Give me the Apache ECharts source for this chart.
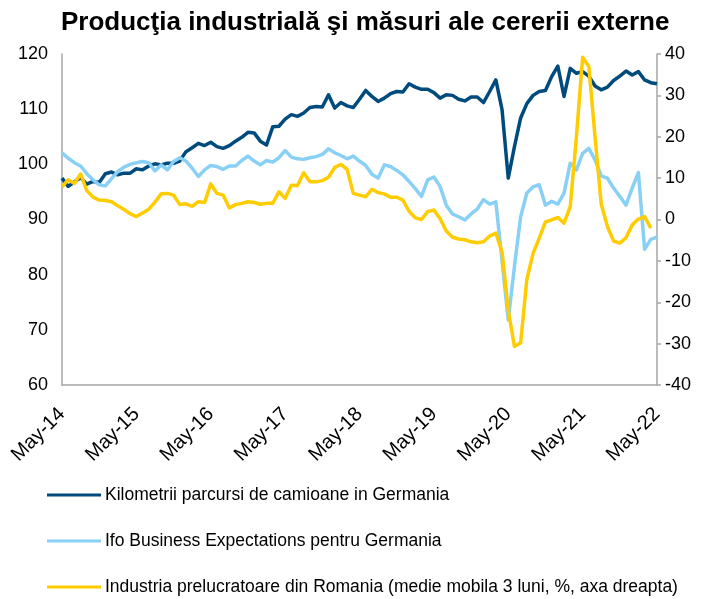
<!DOCTYPE html>
<html>
<head>
<meta charset="utf-8">
<script src="https://cdn.jsdelivr.net/npm/echarts@6/dist/echarts.min.js"></script>
<style>
  html, body { margin: 0; padding: 0; background: #fff; }
  #chart { width: 709px; height: 599px; }
</style>
</head>
<body>
<div id="chart"></div>
<script>
// monthly categories May-14 .. May-22
const monthNames = ['Jan', 'Feb', 'Mar', 'Apr', 'May', 'Jun', 'Jul', 'Aug', 'Sep', 'Oct', 'Nov', 'Dec']
const months = []
for (let k = 0; k < 97; k++) {
  const m = (4 + k) % 12
  const y = 14 + Math.floor((4 + k) / 12)
  months.push(monthNames[m] + '-' + y)
}

// Kilometrii parcursi de camioane in Germania (left axis)
const truckKm = [
  97.5, 96.0, 96.8, 97.6, 96.4, 96.9, 96.7, 98.3, 98.6, 98.1, 98.4, 98.4,
  99.2, 99.0, 99.7, 100.1, 99.9, 100.2, 100.2, 100.6, 102.3, 103.0, 103.8, 103.4,
  104.0, 103.2, 102.9, 103.4, 104.2, 104.9, 105.8, 105.7, 104.2, 103.5, 106.8, 106.9,
  108.2, 109.0, 108.7, 109.3, 110.3, 110.5, 110.4, 112.6, 110.2, 111.2, 110.6, 110.3,
  111.8, 113.4, 112.3, 111.4, 112.0, 112.8, 113.2, 113.1, 114.6, 114.0, 113.6, 113.6,
  113.0, 112.0, 112.6, 112.5, 111.8, 111.5, 112.2, 112.2, 111.2, 113.2, 115.3, 109.9,
  97.5, 103.2, 108.4, 111.0, 112.5, 113.2, 113.4, 115.9, 117.8, 112.3, 117.4, 116.5,
  116.8, 116.0, 114.2, 113.5, 114.0, 115.2, 116.0, 116.9, 116.2, 116.8, 115.3, 114.8,
  114.6
]

// Ifo Business Expectations pentru Germania (left axis)
const ifoExp = [
  102.1, 101.1, 100.3, 99.7, 98.3, 97.2, 96.3, 96.1, 97.4, 98.7, 99.5, 100.0,
  100.3, 100.5, 100.3, 98.8, 99.9, 99.0, 100.5, 101.2, 100.6, 99.3, 97.8, 99.0,
  99.8, 99.6, 99.1, 99.7, 99.7, 100.7, 101.5, 100.6, 99.9, 100.7, 100.4, 101.2,
  102.5, 101.3, 101.0, 100.9, 101.2, 101.4, 101.8, 102.8, 102.1, 101.6, 101.0, 101.5,
  100.6, 99.8, 98.2, 97.5, 99.9, 99.6, 98.9, 98.1, 96.9, 95.6, 94.2, 97.2,
  97.7, 96.0, 92.6, 91.0, 90.5, 89.9, 91.0, 91.9, 93.6, 92.8, 93.2, 82.5,
  71.8, 81.5, 90.5, 94.8, 95.9, 96.3, 92.6, 93.3, 92.8, 94.8, 100.2, 99.0,
  102.0, 102.9, 100.8, 97.9, 97.5, 95.7, 94.2, 92.6, 95.7, 98.5, 84.6, 86.4,
  86.8
]

// Industria prelucratoare din Romania (medie mobila 3 luni, %, axa dreapta)
const roManuf = [
  7.9, 9.6, 8.7, 11.0, 7.0, 5.4, 4.7, 4.6, 4.3, 3.3, 2.4, 1.4,
  0.7, 1.6, 2.5, 4.2, 6.2, 6.3, 5.9, 3.6, 3.8, 3.2, 4.3, 4.1,
  8.6, 6.3, 5.9, 2.8, 3.6, 3.9, 4.3, 4.1, 3.7, 3.9, 3.9, 6.7,
  5.1, 8.3, 8.2, 11.3, 9.1, 9.1, 9.4, 10.2, 12.6, 13.3, 12.1, 6.3,
  5.9, 5.5, 7.3, 6.5, 6.2, 5.4, 5.4, 4.7, 2.0, 0.4, 0.0, 1.9,
  2.3, 0.2, -2.8, -4.3, -4.7, -4.9, -5.4, -5.6, -5.4, -4.0, -3.3, -7.8,
  -22.0, -30.7, -29.8, -14.5, -8.2, -4.5, -0.6, -0.1, 0.5, -0.9, 3.1, 20.0,
  39.2, 37.0, 20.0, 3.7, -1.7, -5.2, -5.7, -4.4, -1.3, 0.1, 0.7, -2.1,
  null
]

const seriesNames = [
  'Kilometrii parcursi de camioane in Germania',
  'Ifo Business Expectations pentru Germania',
  'Industria prelucratoare din Romania (medie mobila 3 luni, %, axa dreapta)'
]
const colors = ['#004b7d', '#88d0f5', '#ffcc00']

const font = 'Arial, "Liberation Sans", sans-serif'
const axisGray = '#a6a6a6'

const chart = echarts.init(document.getElementById('chart'))

const lineSeries = (name, data, color, axis) => ({
  name,
  type: 'line',
  data,
  yAxisIndex: axis,
  showSymbol: false,
  symbol: 'none',
  smooth: false,
  connectNulls: false,
  lineStyle: { color, width: 3.5, join: 'round' },
  itemStyle: { color }
})

// one legend block per row, so rows keep the wide spacing of the original
const legendRow = (name, top) => ({
  left: 47,
  top,
  padding: 0,
  itemWidth: 54,
  itemHeight: 3,
  itemGap: 0,
  icon: 'rect',
  textStyle: { fontFamily: font, fontSize: 17.5, color: '#000', padding: [0, 0, 0, -1] },
  data: [name]
})

const opt = {
  animation: false,
  title: {
    text: 'Producţia industrială şi măsuri ale cererii externe',
    left: 56,
    top: 5,
    textStyle: { fontFamily: font, fontSize: 26, fontWeight: 'bold', color: '#000' }
  },
  legend: [
    legendRow(seriesNames[0], 486),
    legendRow(seriesNames[1], 532),
    legendRow(seriesNames[2], 578)
  ],
  grid: {
    left: 62,
    right: 52,
    top: 54,
    bottom: 214
  },
  xAxis: {
    type: 'category',
    boundaryGap: false,
    data: months,
    axisLine: { onZero: false, lineStyle: { color: axisGray, width: 1.5 } },
    axisTick: { show: false },
    axisLabel: {
      interval: 11,
      rotate: 45,
      margin: 26,
      fontFamily: font,
      fontSize: 20,
      color: '#000'
    },
    splitLine: { show: false }
  },
  yAxis: [
    {
      type: 'value',
      min: 60,
      max: 120,
      interval: 10,
      axisLine: { show: true, lineStyle: { color: axisGray, width: 1.5 } },
      axisTick: { show: false },
      axisLabel: { fontFamily: font, fontSize: 18, color: '#000', margin: 14 },
      splitLine: { show: false }
    },
    {
      type: 'value',
      min: -40,
      max: 40,
      interval: 10,
      position: 'right',
      axisLine: { show: true, lineStyle: { color: axisGray, width: 1.5 } },
      axisTick: { show: true, length: 4, lineStyle: { color: axisGray, width: 1.5 } },
      axisLabel: { fontFamily: font, fontSize: 18, color: '#000', margin: 8 },
      splitLine: { show: false }
    }
  ],
  series: [
    lineSeries(seriesNames[0], truckKm, colors[0], 0),
    lineSeries(seriesNames[1], ifoExp, colors[1], 0),
    lineSeries(seriesNames[2], roManuf, colors[2], 1)
  ]
}

chart.setOption(opt)
</script>
</body>
</html>
